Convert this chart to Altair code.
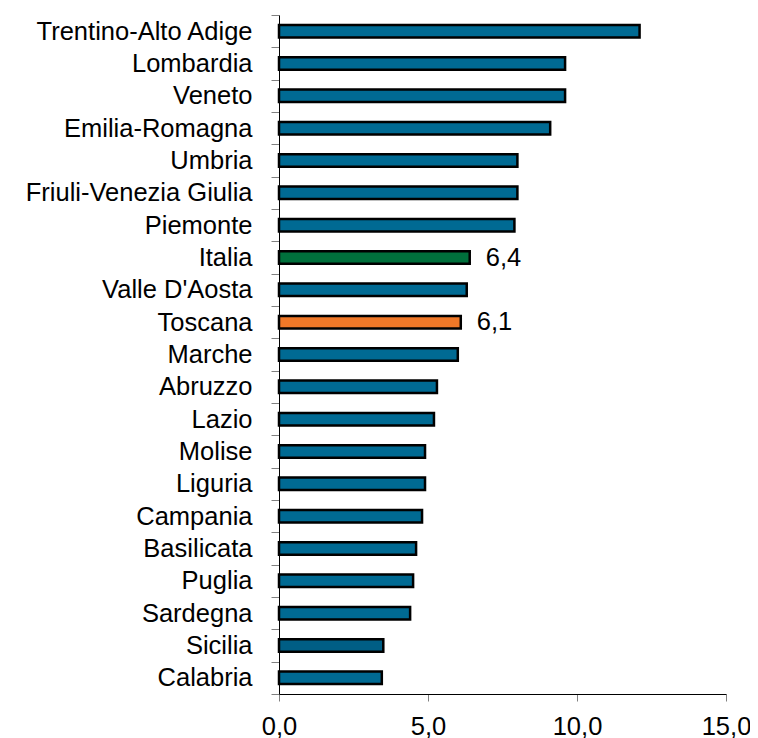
import altair as alt
import pandas as pd

regions = ["Trentino-Alto Adige", "Lombardia", "Veneto", "Emilia-Romagna", "Umbria",
           "Friuli-Venezia Giulia", "Piemonte", "Italia", "Valle D'Aosta", "Toscana",
           "Marche", "Abruzzo", "Lazio", "Molise", "Liguria", "Campania", "Basilicata",
           "Puglia", "Sardegna", "Sicilia", "Calabria"]
values = [12.1, 9.6, 9.6, 9.1, 8.0, 8.0, 7.9, 6.4, 6.3, 6.1,
          6.0, 5.3, 5.2, 4.9, 4.9, 4.8, 4.6, 4.5, 4.4, 3.5, 3.45]
colors = ["#006a93"] * 7 + ["#00703c", "#006a93", "#f07828"] + ["#006a93"] * 9 + ["#005e85", "#006a93"]
labels = ["", "", "", "", "", "", "", "6,4", "", "6,1",
          "", "", "", "", "", "", "", "", "", "", ""]

df = pd.DataFrame({"regione": regions, "valore": values, "colore": colors, "etichetta": labels})

FONT = "Liberation Sans"
FS = 25.5

y_enc = alt.Y(
    "regione:N", sort=regions, title=None,
    scale=alt.Scale(paddingInner=0, paddingOuter=0),
    axis=alt.Axis(tickBand="extent", tickSize=8, tickColor="#808080", domainColor="black",
                  labelPadding=19, labelFontSize=FS, labelFont=FONT, labelColor="black",
                  grid=False, labelLimit=300, title=None),
)
x_enc = alt.X(
    "valore:Q", title=None, scale=alt.Scale(domain=[0, 15], nice=False),
    axis=alt.Axis(values=[0, 5, 10, 15],
                  labelExpr="replace(format(datum.value, '.1f'), '.', ',')",
                  tickSize=7, tickColor="#808080", domainColor="black", grid=False,
                  labelFlush=False,
                  labelFontSize=FS, labelFont=FONT, labelColor="black", labelPadding=13,
                  title=None),
)

bars = alt.Chart(df).mark_bar(size=12.5, stroke="black", strokeWidth=2.5).encode(
    y=y_enc, x=x_enc, fill=alt.Fill("colore:N", scale=None)
)
text = alt.Chart(df).transform_filter("datum.etichetta != ''").mark_text(
    align="left", baseline="middle", dx=16, fontSize=FS, font=FONT, color="black"
).encode(
    y=alt.Y("regione:N", sort=regions, title=None),
    x=alt.X("valore:Q", title=None),
    text="etichetta:N",
)

chart = alt.layer(bars, text).properties(
    width=447, height=679,
    autosize=alt.AutoSizeParams(type="none"),
    padding={"left": 271, "top": 7, "right": 24, "bottom": 44},
).configure_view(stroke=None)

chart.save("out.html", embed_options={"renderer": "svg", "actions": False})
